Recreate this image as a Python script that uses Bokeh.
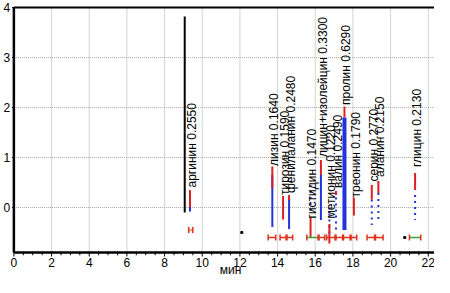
import math
from bokeh.plotting import figure
from bokeh.models import Range1d, ColumnDataSource
from bokeh.embed import file_html
from bokeh.resources import INLINE
from bokeh.core.properties import value

# ---- data ----
names = ["аргинин", "лизин", "тирозин", "фенилаланин", "гистидин", "лицин+изолейцин",
         "метионин", "валин", "пролин", "треонин", "серин", "аланин", "глицин"]
amounts = ["0.2550", "0.1640", "0.1590", "0.2480", "0.1470", "0.3300",
           "0.1220", "0.2490", "0.6290", "0.1790", "0.2770", "0.2150", "0.2130"]
rt = [9.35, 13.72, 14.29, 14.61, 15.75, 16.3, 16.75, 17.1, 17.55, 18.05, 19.0, 19.35, 21.3]
label_y = [0.37, 0.80, 0.22, 0.26, -0.25, 0.98, -0.25, 0.36, 2.02, 0.17, 0.49, 0.58, 0.78]
red_top = [0.35, 0.82, 0.23, 0.25, -0.20, 0.95, -0.33, 0.33, 2.02, 0.20, 0.45, 0.53, 0.69]
red_bottom = [0.00, 0.39, -0.24, 0.15, -0.59, 0.65, -0.72, 0.25, 1.80, -0.16, 0.16, 0.29, 0.35]
blue_top = [0.20, 0.65, -0.24, 0.20, 0.45, 0.65, 0.00, 0.20, 1.80, -0.16, 0.16, 0.29, 0.25]
blue_bottom = [-0.08, -0.39, -0.24, -0.43, -0.14, -0.25, -0.60, -0.45, -0.45, -0.16, -0.35, -0.24, -0.25]
blue_dash = ["solid", "solid", "solid", "solid", "dotted", "solid",
             "dotted", "dotted", "solid", "solid", "dotted", "dotted", "dotted"]

spike_x = [9.07]
spike_top = [3.82]
spike_bottom = [-0.10]

bar_lo = [9.28, 13.5, 14.13, 14.5, 15.55, 16.2, 16.6, 17.1, 17.5, 17.9, 18.75, 19.2, 21.0]
bar_hi = [9.5, 13.9, 14.45, 14.8, 16.15, 16.5, 17.05, 17.45, 17.85, 18.2, 19.15, 19.6, 21.6]
bar_y = [-0.45, -0.6, -0.6, -0.6, -0.6, -0.6, -0.6, -0.6, -0.6, -0.6, -0.6, -0.6, -0.6]
bar_color = ["#f08a40", "#e0301c", "#e0301c", "#e0301c", "#3aa83a", "#e0301c", "#e0301c",
             "#e0301c", "#e0301c", "#e0301c", "#e0301c", "#e0301c", "#3aa83a"]

dot_x = [12.1, 20.75, 22.95]
dot_y = [-0.5, -0.6, -0.65]

x_ticks = [0, 2, 4, 6, 8, 10, 12, 14, 16, 18, 20, 22]
x_tick_labels = [str(t) for t in x_ticks]
x_minor = [t / 2 for t in range(0, 45) if t % 4 != 0]
y_ticks = [0, 1, 2, 3, 4]
y_tick_labels = [str(t) for t in y_ticks]
x_title = "мин"

X0, X1 = -0.71, 22.33   # visible time range (room left of 0 for the value labels)
Y_AXIS = -0.9           # where the time axis sits
Y_TOP = 4.0             # top of the plotting box
Y0, Y1 = -1.40, 4.14    # visible value range (room below the axis for labels)
FONT = "Liberation Sans"
GRID = "#a8a8a8"

p = figure(width=434, height=277, output_backend="svg", toolbar_location=None,
           x_range=Range1d(X0, X1), y_range=Range1d(Y0, Y1),
           min_border_top=0, min_border_right=0, min_border_left=0, min_border_bottom=0)
p.outline_line_color = None
p.background_fill_color = "white"
p.border_fill_color = "white"
p.xaxis.visible = False
p.yaxis.visible = False
p.xgrid.visible = False
p.ygrid.visible = False

n_x, n_y = len(x_ticks), len(y_ticks)

# grid lines inside the plotting box
p.segment(x0=x_ticks, y0=[Y_AXIS] * n_x, x1=x_ticks, y1=[Y_TOP] * n_x,
          line_color=GRID, line_dash="1 1", line_width=1)
p.segment(x0=[0] * n_y, y0=y_ticks, x1=[X1] * n_y, y1=y_ticks,
          line_color=GRID, line_dash="1 1", line_width=1)

# box lines: top, bottom axis, left axis
p.segment(x0=[0], y0=[Y_TOP], x1=[X1], y1=[Y_TOP], line_color="black", line_width=2)
p.segment(x0=[0], y0=[Y_AXIS], x1=[X1], y1=[Y_AXIS], line_color="black", line_width=2.5)
p.segment(x0=[0], y0=[Y_AXIS], x1=[0], y1=[Y_TOP], line_color="black", line_width=2.5)

# time axis ticks and labels
p.segment(x0=x_ticks, y0=[Y_AXIS] * n_x, x1=x_ticks, y1=[Y_AXIS - 0.08] * n_x,
          line_color="black", line_width=1)
p.segment(x0=x_minor, y0=[Y_AXIS] * len(x_minor), x1=x_minor, y1=[Y_AXIS - 0.055] * len(x_minor),
          line_color="black", line_width=1)
p.text(x=x_ticks, y=[Y_AXIS - 0.1] * n_x, text=x_tick_labels,
       text_align="center", text_baseline="top",
       text_font=value(FONT), text_font_size="12px", text_color="black")
p.text(x=[11.5], y=[Y0 + 0.01], text=[x_title], text_align="center", text_baseline="bottom",
       text_font=value(FONT), text_font_size="12px", text_color="black")

# value axis ticks and labels
p.segment(x0=[0] * n_y, y0=y_ticks, x1=[-0.1] * n_y, y1=y_ticks, line_color="black", line_width=1)
p.text(x=[-0.2] * n_y, y=y_ticks, text=y_tick_labels, text_align="right", text_baseline="middle",
       text_font=value(FONT), text_font_size="12px", text_color="black")

# black spike
p.segment(x0=spike_x, y0=spike_top, x1=spike_x, y1=spike_bottom, line_color="black", line_width=2)

# blue parts of peaks
for i in range(len(rt)):
    if blue_top[i] != blue_bottom[i]:
        w = 4 if names[i] == "пролин" else 2
        p.segment(x0=[rt[i]], y0=[blue_top[i]], x1=[rt[i]], y1=[blue_bottom[i]],
                  line_color="#2233dd", line_width=w, line_dash=blue_dash[i])

# red parts of peaks
p.segment(x0=rt, y0=red_top, x1=rt, y1=red_bottom, line_color="#dd1f1f", line_width=2)

# bars with caps
cap = 0.06
bsrc = ColumnDataSource(dict(lo=bar_lo, hi=bar_hi, y=bar_y, c=bar_color,
                             yt=[v + cap for v in bar_y], yb=[v - cap for v in bar_y]))
p.segment(x0="lo", y0="y", x1="hi", y1="y", line_color="c", line_width=1.5, source=bsrc)
p.segment(x0="lo", y0="yt", x1="lo", y1="yb", line_color="#e0301c", line_width=1.5, source=bsrc)
p.segment(x0="hi", y0="yt", x1="hi", y1="yb", line_color="#e0301c", line_width=1.5, source=bsrc)

p.scatter(x=dot_x, y=dot_y, size=2, marker="square", color="black")

# peak labels
labels = [f"{n} {a}" for n, a in zip(names, amounts)]
p.text(x=[r + 0.1 for r in rt], y=[v + 0.03 for v in label_y], text=labels,
       angle=math.pi / 2, text_align="left", text_baseline="middle",
       text_font=value(FONT), text_font_size="12px", text_color="black")

open("out.html", "w").write(file_html(p, INLINE))
